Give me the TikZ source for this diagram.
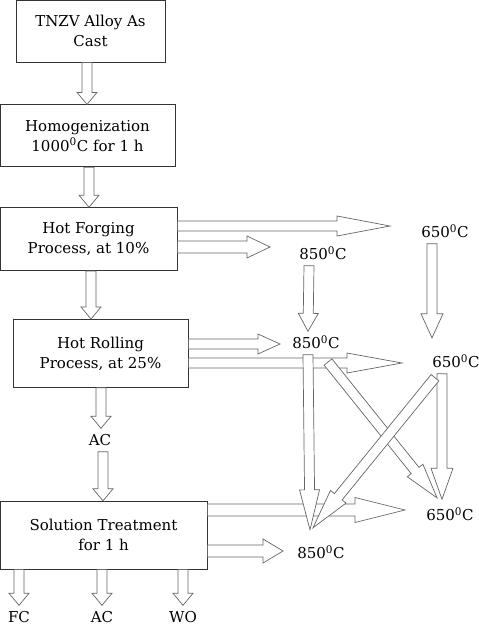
\documentclass[tikz,border=0pt]{standalone}
\usepackage{fontspec}
\setmainfont{DejaVu Serif}
\usetikzlibrary{positioning,calc}

\begin{document}
\begin{tikzpicture}[
    x=1pt, y=1pt,
    font=\fontsize{15}{20}\selectfont,
    node distance=40pt,
    box/.style={
        rectangle,
        draw=black!80,
        fill=white,
        line width=0.8pt,
        align=center,
        inner sep=2pt
    },
    temp/.style={
        inner sep=6pt,
        text height=11pt,
        text depth=0pt
    },
    sw/.store in=\blksw,
    hw/.store in=\blkhw,
    hl/.store in=\blkhl,
    sw=5pt, hw=10pt, hl=12pt,
    blk/.style={
        draw=black!60,
        fill=white,
        line width=0.7pt,
        to path={
            let \p1=(\tikztostart), \p2=(\tikztotarget),
                \n1={atan2(\y2-\y1,\x2-\x1)} in
            ($(\p1)+(\n1+90:\blksw)$)
            -- ($(\p2)+(\n1+180:\blkhl)+(\n1+90:\blksw)$)
            -- ($(\p2)+(\n1+180:\blkhl)+(\n1+90:\blkhw)$)
            -- (\p2)
            -- ($(\p2)+(\n1+180:\blkhl)+(\n1-90:\blkhw)$)
            -- ($(\p2)+(\n1+180:\blkhl)+(\n1-90:\blksw)$)
            -- ($(\p1)+(\n1-90:\blksw)$)
            -- cycle
        }
    }
]
\useasboundingbox (0,0) rectangle (479,-627);

\node[box, minimum width=149pt, minimum height=62pt] (tnzv) at (90.5,-31) {TNZV Alloy As\\Cast};
\node[box, minimum width=175pt, minimum height=62pt, below=42pt of tnzv, xshift=-3pt] (homog) {Homogenization\\1000\textsuperscript{0}C for 1 h};
\node[box, minimum width=177pt, minimum height=63pt, below=40pt of homog, xshift=1pt] (hf) {Hot Forging\\Process, at 10\%};
\node[box, minimum width=175pt, minimum height=68pt, below=48pt of hf, xshift=12pt] (hr) {Hot Rolling\\Process, at 25\%};
\node[temp] (acm) at (100,-440) {AC};
\node[box, minimum width=207pt, minimum height=68pt, below=113pt of hr, xshift=3pt] (st) {Solution Treatment\\for 1 h};

\node[temp] (fc) at (19,-617) {FC};
\node[temp] (acb) at (102,-617) {AC};
\node[temp] (wo) at (183,-617) {WO};

\node[temp] (t650a) at (445,-232) {650\textsuperscript{0}C};
\node[temp] (t850a) at (323,-254) {850\textsuperscript{0}C};
\node[temp] (t850b) at (316,-343) {850\textsuperscript{0}C};
\node[temp] (t650b) at (456,-362) {650\textsuperscript{0}C};
\node[temp] (t650c) at (450,-515) {650\textsuperscript{0}C};
\node[temp] (t850c) at (321,-553) {850\textsuperscript{0}C};

\coordinate (f1tip) at (390,-226);
\coordinate (f2tip) at (270,-247);
\coordinate (r1tip) at (280,-344);
\coordinate (r2tip) at (402,-363);
\coordinate (s1tip) at (405,-510);
\coordinate (s2tip) at (283,-551);
\coordinate (d1s) at (328,-362);

\draw[blk] ([xshift=-3.5pt]tnzv.south) to ([xshift=-0.5pt]homog.north);
\draw[blk] ([xshift=1.5pt]homog.south) to ([xshift=0.5pt]hf.north);
\draw[blk] ([xshift=2.5pt]hf.south) to ([xshift=-9.5pt]hr.north);
\draw[blk] ([xshift=0.5pt]hr.south) to ([xshift=1pt]acm.north);
\draw[blk] ([xshift=3pt]acm.south) to ([xshift=-0.5pt]st.north);

\draw[blk] (st.south -| fc.north) to (fc.north);
\draw[blk] (st.south -| acb.north) to (acb.north);
\draw[blk] (st.south -| wo.north) to (wo.north);

\draw[blk, sw=6pt, hw=12.5pt, hl=50pt] (st.east |- s1tip) to (s1tip);
\draw[blk, sw=6pt, hw=12pt, hl=20pt] (st.east |- s2tip) to (s2tip);

\draw[blk, hl=53pt] (hf.east |- f1tip) to (f1tip);
\draw[blk, sw=6pt, hw=11pt, hl=23pt] (hf.east |- f2tip) to (f2tip);
\draw[blk, hl=22pt] (hr.east |- r1tip) to (r1tip);

\draw[blk, hl=18pt] ([xshift=-14pt]t850a.south) to ([xshift=-8pt]t850b.north);
\draw[blk, hw=11pt, hl=24pt] ([xshift=-13pt]t650a.south) to ([xshift=-24pt,yshift=12.5pt]t650b.north);

\draw[blk, hl=55pt] (hr.east |- r2tip) to (r2tip);

\draw[blk, hl=40pt] ([xshift=-8pt]t850b.south) to ([xshift=-11pt,yshift=11.5pt]t850c.north);
\draw[blk, hw=11pt, hl=31pt] ([xshift=-14pt]t650b.south) to ([xshift=-8pt,yshift=4pt]t650c.north);
\draw[blk, hl=35pt] (d1s) to ([xshift=-13pt,yshift=5.5pt]t650c.north);
\draw[blk, hl=40pt] ([xshift=-21pt,yshift=-4pt]t650b.south) to ([xshift=-8pt,yshift=13.5pt]t850c.north);

\end{tikzpicture}
\end{document}
